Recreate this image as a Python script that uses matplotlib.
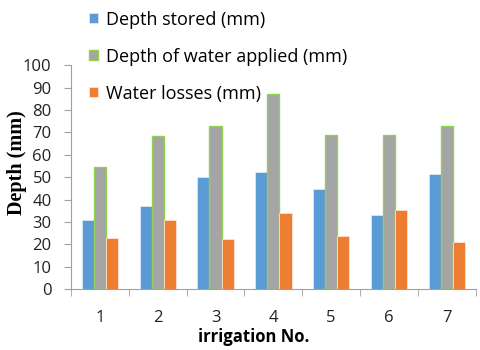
import matplotlib.pyplot as plt
import numpy as np

# irrigation data
irrigations = [1, 2, 3, 4, 5, 6, 7]
depth_stored = [31, 37, 50, 52.5, 44.5, 33, 51.5]
depth_applied = [54.5, 68.5, 73, 87, 69, 69, 73]
water_losses = [23, 31, 22.5, 34, 23.5, 35.5, 21]

fig = plt.figure(figsize=(4.8, 3.5), dpi=100)
ax = fig.add_axes([0.148, 0.174, 0.843, 0.64])

x = np.arange(len(irrigations)) + 1
w = 0.21
b1 = ax.bar(x - w, depth_stored, w, color="#5B9BD5", edgecolor="#DCE9F5", linewidth=0.6,
            label="Depth stored (mm)")
b2 = ax.bar(x, depth_applied, w, color="#A5A5A5", edgecolor="#92D050", linewidth=1.0,
            label="Depth of water applied (mm)")
b3 = ax.bar(x + w, water_losses, w, color="#ED7D31", edgecolor="#FBE3D3", linewidth=0.6,
            label="Water losses (mm)")

ax.set_xlim(0.5, len(irrigations) + 0.5)
ax.set_ylim(0, 100)
ax.set_yticks(range(0, 101, 10))
ax.set_xticks(x)
ax.set_xticklabels([str(i) for i in irrigations])
ax.set_xticks(np.arange(0.5, len(irrigations) + 1, 1), minor=True)
ax.tick_params(axis="x", which="major", length=0, pad=15)
ax.tick_params(axis="x", which="minor", length=5, color="#A0A0A0")
ax.tick_params(axis="y", length=5, color="#A0A0A0", pad=9)
for lab in ax.get_xticklabels() + ax.get_yticklabels():
    lab.set_fontfamily("Open Sans")
    lab.set_fontsize(12)
    lab.set_color("#222222")

for s in ["top", "right"]:
    ax.spines[s].set_visible(False)
for s in ["left", "bottom"]:
    ax.spines[s].set_color("#A0A0A0")

ax.set_xlabel("irrigation No.", fontsize=12, fontweight="bold", fontfamily="Open Sans")
ax.xaxis.set_label_coords(0.452, -0.172)
ax.set_ylabel("Depth (mm)", fontsize=14.5, fontweight="bold", fontfamily="Liberation Serif")
ax.yaxis.set_label_coords(-0.109, 0.5625)

fig.legend(handles=[b1, b2, b3], loc="upper left", bbox_to_anchor=(0.171, 0.99),
           frameon=False, prop={"family": "Open Sans", "size": 13},
           handlelength=0.5, handleheight=0.5, handletextpad=0.4, labelspacing=1.05,
           borderaxespad=0)

fig.savefig("out.png", dpi=100)
